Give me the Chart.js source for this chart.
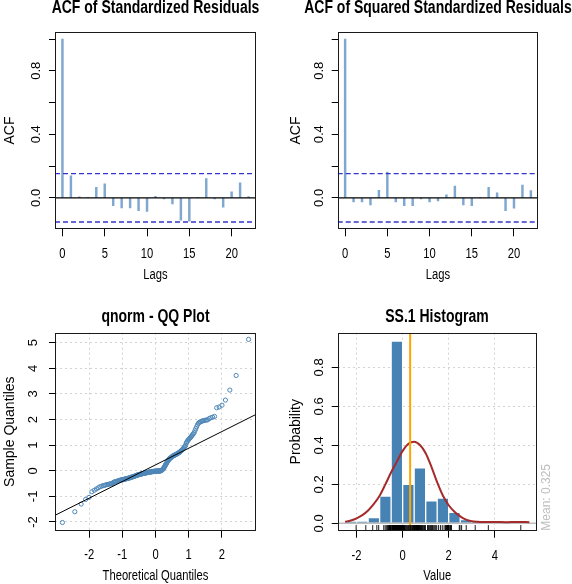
<!DOCTYPE html>
<html><head><meta charset="utf-8">
<script src="https://cdn.jsdelivr.net/npm/chart.js@4.4.1/dist/chart.umd.min.js"></script>
<style>
html,body{margin:0;padding:0;background:#fff;overflow:hidden;width:572px;height:584px;position:relative;}
.p{position:absolute;}
canvas{display:block;}
</style></head><body>
<div class="p" style="left:0;top:0"><canvas id="c1" width="311" height="292"></canvas></div>
<div class="p" style="left:286px;top:0"><canvas id="c2" width="304" height="292"></canvas></div>
<div class="p" style="left:0;top:292px"><canvas id="c3" width="311" height="292"></canvas></div>
<div class="p" style="left:286px;top:292px"><canvas id="c4" width="302" height="292"></canvas></div>
<script>
// ---------- data ----------
const acfLags = [0,1,2,3,4,5,6,7,8,9,10,11,12,13,14,15,16,17,18,19,20,21,22];
const acfResid = [1.0,0.139,0.006,0.002,0.067,0.088,-0.05,-0.063,-0.063,-0.08,-0.086,0.01,-0.006,-0.038,-0.141,-0.147,0.002,0.122,-0.006,-0.059,0.038,0.095,0.008];
const acfSqResid = [1.0,-0.025,-0.025,-0.044,0.048,0.162,-0.025,-0.05,-0.05,-0.006,-0.025,-0.019,0.019,0.074,-0.044,-0.05,0.002,0.067,0.032,-0.08,-0.065,0.08,0.046];
const acfBound = 0.152;
const acfXTicks = [0,5,10,15,20];
const acfYTicks = [0,0.2,0.4,0.6,0.8,1.0];
const acfYTickLabels = ['0.0','','0.4','','0.8',''];

// sorted standardized residuals (sample quantiles)
const qqSample = [
-2.02,-1.60,-1.30,-1.12,-1.04,
-0.82,-0.76,-0.71,-0.66,-0.62,-0.60,-0.58,-0.57,-0.55,-0.54,-0.53,-0.52,-0.51,-0.505,-0.50,
-0.45,-0.44,-0.43,-0.42,-0.41,-0.40,-0.39,-0.38,-0.37,-0.36,
-0.36,-0.35,-0.35,-0.34,-0.33,-0.33,-0.32,-0.31,-0.31,-0.30,
-0.30,-0.29,-0.28,-0.28,-0.27,-0.26,-0.25,-0.25,-0.24,-0.23,
-0.23,-0.22,-0.21,-0.21,-0.20,-0.19,-0.18,-0.18,-0.17,-0.16,
-0.16,-0.15,-0.15,-0.14,-0.14,-0.13,-0.13,-0.12,-0.12,-0.11,
-0.11,-0.10,-0.10,-0.10,-0.09,-0.09,-0.08,-0.08,-0.08,-0.07,
-0.07,-0.07,-0.06,-0.06,-0.06,-0.05,-0.05,-0.05,-0.04,-0.04,
-0.04,-0.04,-0.03,-0.03,-0.03,-0.03,-0.02,-0.02,-0.02,-0.02,
-0.02,-0.02,-0.02,-0.01,-0.01,-0.01,-0.01,-0.01,-0.01,-0.01,
-0.01,0.00,0.00,0.00,
0.02,0.03,0.04,0.06,0.08,0.10,0.13,0.16,0.19,0.22,0.25,0.28,0.31,0.34,0.37,0.40,0.42,0.44,0.46,0.48,0.49,
0.51,0.52,0.54,0.55,0.57,0.58,0.59,0.60,0.61,0.62,0.63,0.64,0.65,0.66,0.68,0.69,0.70,0.71,0.73,0.75,0.77,0.79,0.81,0.83,0.86,0.89,0.92,0.95,0.99,
1.08,1.12,1.16,1.20,1.23,1.26,1.29,1.32,1.36,1.40,1.44,1.48,
1.56,1.64,1.72,1.80,1.86,1.89,1.91,1.93,1.95,1.96,1.97,1.98,1.99,
2.04,2.07,2.09,2.12,2.46,2.49,
2.56,2.76,3.15,3.72,5.13
];
const qqLineIntercept = 0.23;
const qqLineSlope = 0.65;
const qqXTicks = [-2,-1,0,1,2];
const qqYTicks = [-2,-1,0,1,2,3,4,5];

const histBreaks = [-2.5,-2,-1.5,-1,-0.5,0,0.5,1,1.5,2,2.5,3,3.5,4,4.5,5,5.5];
const histDensity = [0.01,0.01,0.03,0.14,0.935,0.20,0.285,0.115,0.13,0.057,0.02,0.01,0.01,0,0,0.01];
const densX = [-2.5,-2.25,-2.0,-1.75,-1.5,-1.25,-1.0,-0.75,-0.5,-0.25,0.0,0.25,0.5,0.75,1.0,1.25,1.5,1.75,2.0,2.25,2.5,2.75,3.0,3.25,3.5,4.0,4.5,5.0,5.5];
const densY = [0.008,0.015,0.026,0.042,0.066,0.10,0.142,0.20,0.262,0.318,0.372,0.408,0.419,0.402,0.36,0.29,0.21,0.142,0.093,0.06,0.036,0.019,0.011,0.008,0.007,0.007,0.006,0.007,0.006];
const meanValue = 0.325;
const histXTicks = [-2,0,2,4];
const histYTicks = [0,0.2,0.4,0.6,0.8];

// axis limits
const acfX = [-0.88, 22.88], acfY = [-0.198, 1.046];
const qqX = [-3.03, 3.03], qqY = [-2.34, 5.39];
const histX = [-2.82, 5.82], histY = [-0.0376, 0.978];

// ---------- helpers ----------
const FONT = "'Liberation Sans',Arial,sans-serif";
// horizontal text in the original is set in a narrow face; emulate it by condensing upright text
const TEXT_SQUEEZE = 0.8;
(function(){
  const orig = CanvasRenderingContext2D.prototype.fillText;
  CanvasRenderingContext2D.prototype.fillText = function(text, x, y, maxWidth){
    const m = this.getTransform();
    if (Math.abs(m.b) < 1e-6 && Math.abs(m.c) < 1e-6) {
      this.save(); this.translate(x, y); this.scale(TEXT_SQUEEZE, 1);
      if (maxWidth === undefined) orig.call(this, text, 0, 0);
      else orig.call(this, text, 0, 0, maxWidth / TEXT_SQUEEZE);
      this.restore();
    } else {
      if (maxWidth === undefined) orig.call(this, text, x, y);
      else orig.call(this, text, x, y, maxWidth);
    }
  };
})();

function qnorm(p){
 const a=[-3.969683028665376e+01,2.209460984245205e+02,-2.759285104469687e+02,1.383577518672690e+02,-3.066479806614716e+01,2.506628277459239e+00];
 const b=[-5.447609879822406e+01,1.615858368580409e+02,-1.556989798598866e+02,6.680131188771972e+01,-1.328068155288572e+01];
 const c=[-7.784894002430293e-03,-3.223964580411365e-01,-2.400758277161838e+00,-2.549732539343734e+00,4.374664141464968e+00,2.938163982698783e+00];
 const d=[7.784695709041462e-03,3.224671290700398e-01,2.445134137142996e+00,3.754408661907416e+00];
 const pl=0.02425, ph=1-pl; let q,r;
 if(p<pl){q=Math.sqrt(-2*Math.log(p));return (((((c[0]*q+c[1])*q+c[2])*q+c[3])*q+c[4])*q+c[5])/((((d[0]*q+d[1])*q+d[2])*q+d[3])*q+1);}
 if(p<=ph){q=p-0.5;r=q*q;return (((((a[0]*r+a[1])*r+a[2])*r+a[3])*r+a[4])*r+a[5])*q/(((((b[0]*r+b[1])*r+b[2])*r+b[3])*r+b[4])*r+1);}
 q=Math.sqrt(-2*Math.log(1-p));return -(((((c[0]*q+c[1])*q+c[2])*q+c[3])*q+c[4])*q+c[5])/((((d[0]*q+d[1])*q+d[2])*q+d[3])*q+1);
}

const framePlugin = {
  id: 'frame',
  afterDraw(chart){
    const {ctx, chartArea:a} = chart;
    ctx.save(); ctx.strokeStyle='#1a1a1a'; ctx.lineWidth=1;
    ctx.strokeRect(Math.round(a.left)+0.5, Math.round(a.top)+0.5, Math.round(a.right)-Math.round(a.left)-1, Math.round(a.bottom)-Math.round(a.top)-1);
    ctx.restore();
  }
};
const meanLabelPlugin = {
  id: 'meanLabel',
  afterDraw(chart, args, opts){
    if(!opts || !opts.text) return;
    const {ctx, chartArea:a} = chart;
    ctx.save();
    ctx.translate(a.right + opts.offset, a.bottom);
    ctx.rotate(-Math.PI/2);
    ctx.font = '12px ' + FONT; ctx.fillStyle = '#BEBEBE';
    ctx.textAlign = 'left'; ctx.textBaseline = 'middle';
    ctx.fillText(opts.text, 0, 0);
    ctx.restore();
  }
};

function makeOptions(g, c){
  const tTop = g.titleCY - 8.75;
  return {
    responsive:false, animation:false, events:[], devicePixelRatio:1,
    layout:{padding:0},
    plugins:{
      legend:{display:false}, tooltip:{enabled:false},
      title:{display:true, text:c.title, color:'#000',
        font:{family:FONT, size:17.5, weight:'bold', lineHeight:1},
        padding:{top:tTop, bottom:g.T - tTop - 17.5}},
      meanLabel: c.meanLabel || {}
    },
    scales:{
      x:{type:'linear', min:c.xr[0], max:c.xr[1], bounds:'data', offset:false,
        afterFit:s=>{s.height=g.H-g.B;},
        afterBuildTicks:s=>{s.ticks=c.xt.map(v=>({value:v}));},
        ticks:{autoSkip:false, maxRotation:0, color:'#000', padding:g.xLabPad,
          font:{family:FONT, size:14, lineHeight:1}, callback:v=>String(v)},
        grid:{offset:false, drawOnChartArea:c.gridOn, color:'#D3D3D3', tickColor:'#000', tickLength:7, lineWidth:1},
        border:{display:false, dash:[2,3]},
        title:{display:true, text:c.xTitle, color:'#000', font:{family:FONT, size:14, lineHeight:1}, padding:{top:0,bottom:g.xTitlePad}}
      },
      y:{type:'linear', position:'left', min:c.yr[0], max:c.yr[1], bounds:'data',
        afterFit:s=>{s.width=g.L;},
        afterBuildTicks:s=>{s.ticks=c.yt.map(v=>({value:v}));},
        ticks:{autoSkip:false, minRotation:90, maxRotation:90, crossAlign:'center', color:'#000', padding:g.yLabPad,
          font:{family:FONT, size:13, lineHeight:1}, callback:(v,i)=>c.yl[i]},
        grid:{drawOnChartArea:c.gridOn, color:'#D3D3D3', tickColor:'#000', tickLength:6, lineWidth:1},
        border:{display:false, dash:[2,3]},
        title:{display:true, text:c.yTitle, color:'#000', font:{family:FONT, size:14, lineHeight:1}, padding:{top:3.5,bottom:0}}
      },
      // empty right-hand margin so the title is centred over the plot box
      margin:{type:'linear', position:'right', display:true,
        ticks:{display:false}, grid:{display:false}, border:{display:false}, title:{display:false},
        afterFit:s=>{s.width=g.W-g.R;}}
    }
  };
}

function hline(y, xr, color, width, dash){
  return {type:'line', data:[{x:xr[0],y:y},{x:xr[1],y:y}], borderColor:color, borderWidth:width,
    borderDash:dash||[], pointRadius:0, fill:false, tension:0};
}

// ---------- ACF panels ----------
function acfChart(id, g, title, vals){
  const c = {title:title, xr:acfX, yr:acfY, xt:acfXTicks, yt:acfYTicks, yl:acfYTickLabels,
    xTitle:'Lags', yTitle:'ACF', gridOn:false};
  new Chart(document.getElementById(id), {
    type:'bar',
    data:{datasets:[
      hline(acfBound, acfX, '#3434CC', 1.3, [5,3]),
      hline(-acfBound, acfX, '#3434CC', 1.3, [5,3]),
      hline(0, acfX, '#000', 1.2),
      {type:'bar', data:acfLags.map((l,i)=>({x:l,y:vals[i]})), backgroundColor:'#7FA7CF', borderWidth:0, barThickness:1.8, grouped:false}
    ]},
    options: makeOptions(g, c),
    plugins:[framePlugin]
  });
}
acfChart('c1', {W:311,H:292,L:55,R:256,T:31.7,B:229.3,titleCY:8.5,xLabPad:10.5,xTitlePad:10,yLabPad:3.96},
  'ACF of Standardized Residuals', acfResid);
acfChart('c2', {W:304,H:292,L:51.7,R:252.3,T:31.7,B:229.3,titleCY:8.5,xLabPad:10.5,xTitlePad:10,yLabPad:3.66},
  'ACF of Squared Standardized Residuals', acfSqResid);

// ---------- QQ panel ----------
const nQ = qqSample.length;
const qqTheo = qqSample.map((_,i)=>qnorm((i+1-0.5)/nQ));
new Chart(document.getElementById('c3'), {
  type:'scatter',
  data:{datasets:[
    {type:'line', data:qqX.map(x=>({x:x, y:qqLineIntercept+qqLineSlope*x})), borderColor:'#000', borderWidth:1, pointRadius:0, fill:false},
    {type:'scatter', data:qqTheo.map((t,i)=>({x:t,y:qqSample[i]})), pointStyle:'circle', pointRadius:2.1,
      borderColor:'#4E86B8', backgroundColor:'rgba(0,0,0,0)', borderWidth:1}
  ]},
  options: makeOptions({W:311,H:292,L:55,R:256,T:40.7,B:238.7,titleCY:25,xLabPad:10.5,xTitlePad:0.7,yLabPad:9.7},
    {title:'qnorm - QQ Plot', xr:qqX, yr:qqY, xt:qqXTicks, yt:qqYTicks, yl:qqYTicks.map(String),
     xTitle:'Theoretical Quantiles', yTitle:'Sample Quantiles', gridOn:true}),
  plugins:[framePlugin]
});

// ---------- Histogram panel ----------
const histMid = histDensity.map((_,i)=>(histBreaks[i]+histBreaks[i+1])/2);
new Chart(document.getElementById('c4'), {
  type:'bar',
  data:{datasets:[
    {type:'scatter', data:qqSample.map(v=>({x:v,y:histY[0]*0.6})), pointStyle:'line', rotation:90, pointRadius:2.7,
      borderColor:'#000', borderWidth:0.9, backgroundColor:'#000'},
    {type:'line', data:histY.map(y=>({x:meanValue,y:y})), borderColor:'#FFA500', borderWidth:2, pointRadius:0, fill:false},
    {type:'line', data:densX.map((x,i)=>({x:x,y:densY[i]})), borderColor:'#A52A2A', borderWidth:2, pointRadius:0, fill:false, cubicInterpolationMode:'monotone'},
    hline(0, histX, '#BEBEBE', 1.5),
    {type:'bar', data:histMid.map((m,i)=>({x:m,y:histDensity[i]})), backgroundColor:'#4682B4', borderColor:'#FFFFFF', borderWidth:1,
      barPercentage:1, categoryPercentage:1, grouped:false}
  ]},
  options: makeOptions({W:302,H:292,L:51.7,R:250.7,T:40.7,B:238.7,titleCY:25,xLabPad:11,xTitlePad:0.7,yLabPad:3.36},
    {title:'SS.1 Histogram', xr:histX, yr:histY, xt:histXTicks, yt:histYTicks, yl:histYTicks.map(v=>v.toFixed(1)),
     xTitle:'Value', yTitle:'Probability', gridOn:true,
     meanLabel:{text:'Mean: '+meanValue.toFixed(3), offset:9.5}}),
  plugins:[framePlugin, meanLabelPlugin]
});
</script>
</body></html>
